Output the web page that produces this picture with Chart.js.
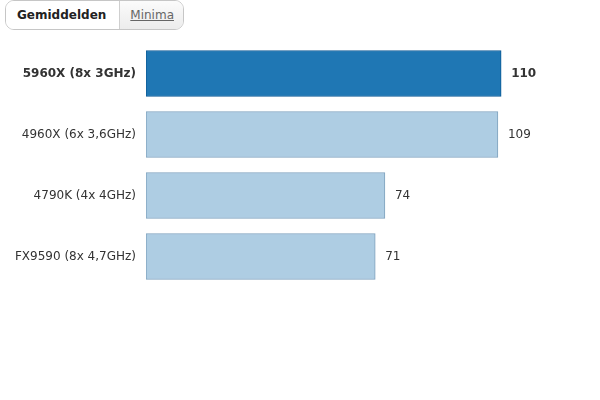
<!DOCTYPE html>
<html>
<head>
<meta charset="utf-8">
<script src="https://cdn.jsdelivr.net/npm/chart.js@4"></script>
<style>
  html, body { margin: 0; padding: 0; background: #fff; }
  body { width: 600px; height: 400px; position: relative; overflow: hidden; font-family: "DejaVu Sans", sans-serif; }
  #wrap { position: absolute; left: 0; top: 0; width: 600px; height: 400px; }
  .tabs { position: absolute; left: 5px; top: 0px; height: 28px; border: 1px solid #c6c6c6; border-radius: 9px; display: flex; overflow: hidden; z-index: 2; background: #fff; }
  .tab { height: 28px; line-height: 29px; font-size: 12px; }
  .tab.active { font-weight: bold; color: #222; background: #fff; padding: 0 13px 0 11px; }
  .tab.link { color: #666; text-decoration: underline; background: linear-gradient(#fbfbfb, #ececec); border-left: 1px solid #cfcfcf; padding: 0 9px 0 10px; }
</style>
</head>
<body>
<div class="tabs"><div class="tab active">Gemiddelden</div><div class="tab link">Minima</div></div>
<div id="wrap"><canvas id="c" width="600" height="400"></canvas></div>
<script>
const categories = ["5960X (8x 3GHz)", "4960X (6x 3,6GHz)", "4790K (4x 4GHz)", "FX9590 (8x 4,7GHz)"];
const values = [110, 109, 74, 71];
const highlightIndex = 0;

const FONT = "'DejaVu Sans', sans-serif";
const fillColors = categories.map((_, i) => i === highlightIndex ? "#1f77b4" : "#aecde3");
const borderColors = categories.map((_, i) => i === highlightIndex ? "#0d5a95" : "#7fa2bd");

const valueLabels = {
  id: "valueLabels",
  afterDatasetsDraw(chart) {
    const ctx = chart.ctx;
    const meta = chart.getDatasetMeta(0);
    ctx.save();
    ctx.textBaseline = "middle";
    ctx.textAlign = "left";
    ctx.fillStyle = "#333";
    meta.data.forEach((bar, i) => {
      ctx.font = (i === highlightIndex ? "bold " : "") + "12px " + FONT;
      ctx.fillText(String(values[i]), bar.x + 10, bar.y);
    });
    ctx.restore();
  }
};

new Chart(document.getElementById("c"), {
  type: "bar",
  data: {
    labels: categories,
    datasets: [{
      data: values,
      backgroundColor: fillColors,
      borderColor: borderColors,
      borderWidth: 1,
      borderSkipped: false,
      barThickness: 46
    }]
  },
  options: {
    indexAxis: "y",
    responsive: false,
    animation: false,
    devicePixelRatio: 1,
    layout: { padding: { top: 43, bottom: 113, left: 0, right: 2 } },
    plugins: { legend: { display: false }, tooltip: { enabled: false } },
    scales: {
      x: { display: false, min: 0, max: 140 },
      y: {
        grid: { display: false, drawTicks: false },
        border: { display: false },
        afterFit(scale) { scale.width = 146; },
        ticks: {
          padding: 10,
          color: "#333",
          font: (c) => ({ family: FONT, size: 12, weight: c.index === highlightIndex ? "bold" : "normal" })
        }
      }
    }
  },
  plugins: [valueLabels]
});
</script>
</body>
</html>
